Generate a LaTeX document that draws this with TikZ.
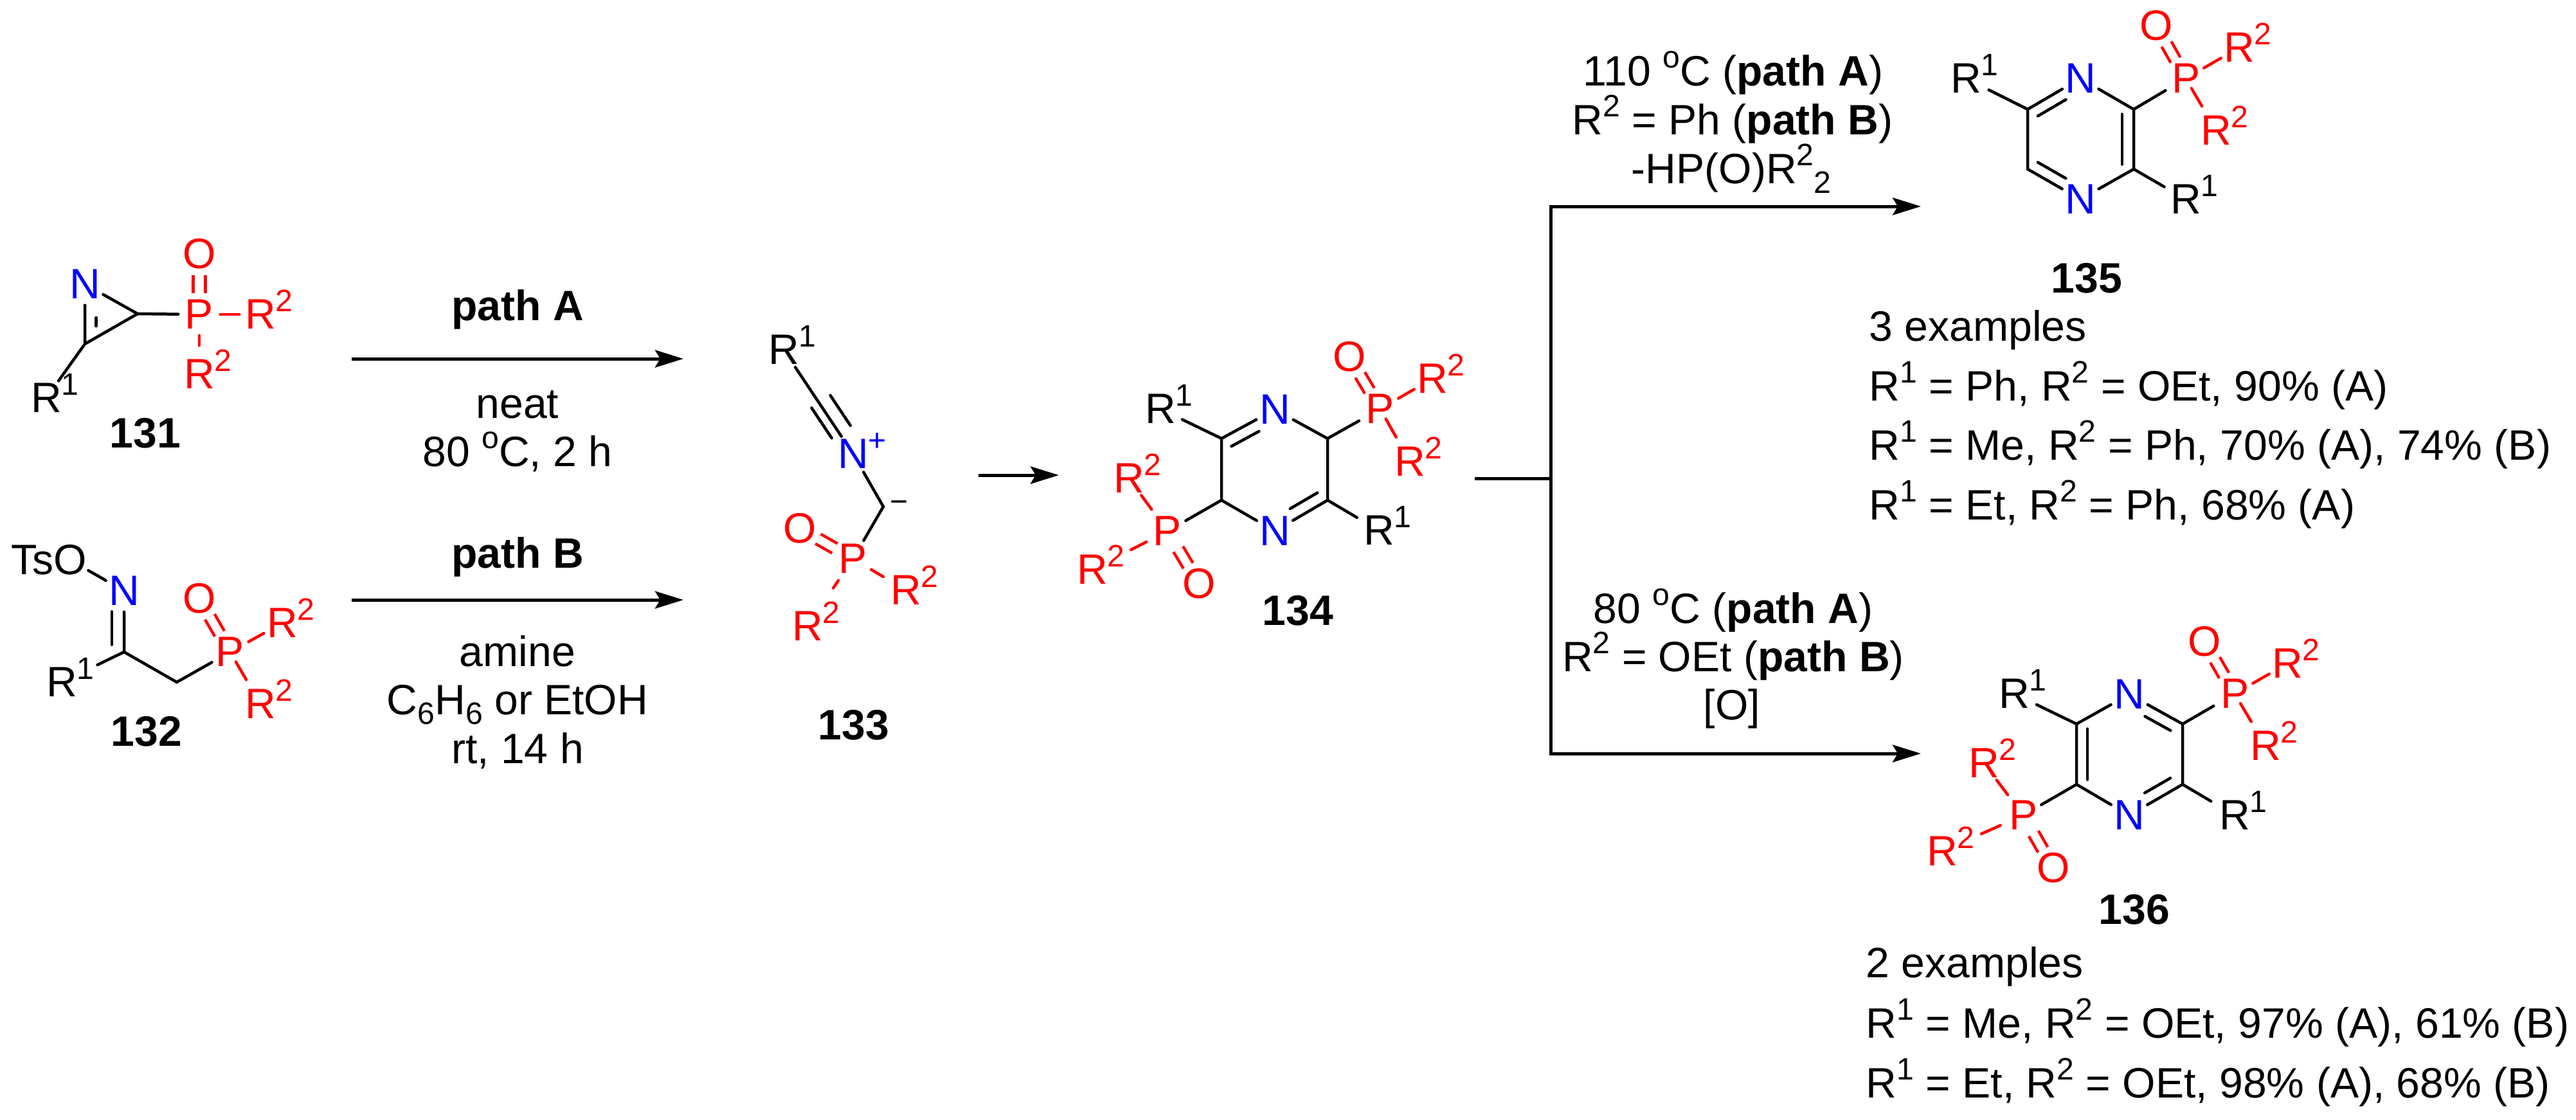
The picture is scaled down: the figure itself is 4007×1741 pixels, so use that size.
\documentclass[tikz,border=0pt]{standalone}
\usepackage{fontspec}
\setmainfont{Liberation Sans}
\usetikzlibrary{calc,arrows.meta}
\newcommand\chemf{\fontsize{18.8}{22}\selectfont}
\newcommand\supf{\fontsize{13.7}{14}\selectfont}
\newcommand\up[1]{\raisebox{.41em}{\supf #1}}
\newcommand\dn[1]{\raisebox{-.23em}{\supf #1}}
\newcommand\At[1]{\makebox[0pt]{#1}}
\newcommand\Rs[1]{\At{R\smash{\rlap{\up{#1}}}}}
\newcommand\sidebond[6][]{\draw[bond,#1] ($(#2)!#4!(#3)!#6!90:(#3)$) -- ($(#2)!#5!(#3)!#6!90:(#3)$);}
\tikzset{
  atom/.style={circle,inner sep=0pt,minimum size=.64cm,font=\chemf},
  ratom/.style={atom,text=red},
  batom/.style={atom,text=blue},
  txt/.style={inner sep=0pt,font=\chemf,anchor=base},
  ltxt/.style={txt,anchor=base west},
  num/.style={txt,font=\chemf\bfseries},
  bond/.style={line width=.045cm,line cap=round,draw=black},
  rbond/.style={bond,draw=red},
  dbond/.style={rbond,line cap=butt,double=white,double distance=.125cm},
  plow/.style={shorten <=-.15cm,shorten >=.11cm},
  arr/.style={line width=.05cm,draw=black,-{Stealth[length=.44cm,width=.27cm,inset=.08cm]}},
  line/.style={line width=.05cm,draw=black,line cap=rect}
}
\begin{document}
\begin{tikzpicture}[x=.01cm,y=-.01cm]
\useasboundingbox (0,0) rectangle (4007,1741);
\fill[white] (0,0) rectangle (4007,1741);
% ---------- 131
\node[batom] (aN) at (132,442) {\At{N}};
\coordinate (aC3) at (214,488);
\coordinate (aC2) at (132,535);
\node[ratom] (aP) at (310,489) {\At{P}};
\node[ratom] (aO) at (310,395) {\At{O}};
\node[ratom] (aRr) at (405,489) {\Rs{2}};
\node[ratom] (aRl) at (310,582) {\Rs{2}};
\node[atom] (aR1) at (72,619) {\Rs{1}};
\node[num] (aL) at (226,696) {131};
\draw[bond] (aN) -- (aC3) -- (aP);
\draw[bond] (aN) -- (aC2) -- (aC3);
\draw[bond,shorten <=.03cm] (aC2) -- (aR1);
\sidebond{aN}{aC2}{.56}{.70}{.175cm}
\draw[dbond,double distance=.14cm] (aP) -- (aO);
\draw[rbond] (aP) -- (aRr);
\draw[rbond,shorten >=.12cm] (aP) -- (aRl);
% ---------- 132
\node[atom] (bO) at (109,871) {\At{\llap{Ts}O}};
\node[batom] (bN) at (193,919) {\At{N}};
\coordinate (bC) at (193,1014);
\coordinate (bCH) at (275,1061);
\node[ratom] (bP) at (358,1014) {\At{P}};
\node[ratom] (bO2) at (310,931) {\At{O}};
\node[ratom] (bRr) at (439,969) {\Rs{2}};
\node[ratom] (bRl) at (405,1095) {\Rs{2}};
\node[atom] (bR1) at (96,1061) {\Rs{1}};
\node[num] (bL) at (228,1160) {132};
\draw[bond] (bO) -- (bN);
\draw[bond] (bN) -- (bC) -- (bCH) -- (bP);
\draw[bond,shorten >=.29cm] (bC) -- (bR1);
\sidebond{bN}{bC}{.34}{.88}{-.19cm}
\draw[dbond] (bP) -- (bO2);
\draw[rbond] (bP) -- (bRr);
\draw[rbond,plow] (bP) -- (bRl);
% ---------- path A / path B
\coordinate (arA1) at (547,558); \coordinate (arA2) at (1063,558);
\coordinate (arB1) at (547,933); \coordinate (arB2) at (1063,933);
\draw[arr] (arA1) -- (arA2);
\draw[arr] (arB1) -- (arB2);
\node[txt] (tA1) at (805,498) {\bfseries path A};
\node[txt] (tA2) at (805,650) {neat};
\node[txt] (tA3) at (805,725) {80 \up{o}C, 2 h};
\node[txt] (tB1) at (805,883) {\bfseries path B};
\node[txt] (tB2) at (805,1036) {amine};
\node[txt] (tB3) at (805,1111) {C\dn{6}H\dn{6} or EtOH};
\node[txt] (tB4) at (805,1187) {rt, 14 h};
% ---------- 133
\node[atom] (cR1) at (1219,544) {\Rs{1}};
\node[batom] (cN) at (1327,706) {\At{N\smash{\rlap{\up{+}}}}};
\coordinate (cC) at (1374,788);
\node[atom,minimum size=0pt] (cm) at (1399,788) {\At{\supf −}};
\node[ratom] (cP) at (1327,869) {\At{P}};
\node[ratom] (cO) at (1244,822) {\At{O}};
\node[ratom] (cRr) at (1409,918) {\Rs{2}};
\node[ratom] (cRl) at (1256,974) {\Rs{2}};
\node[num] (cL) at (1328,1150) {133};
\draw[bond] (cR1) -- (cN);
\sidebond{cR1}{cN}{.51}{.80}{.21cm}
\sidebond{cR1}{cN}{.51}{.80}{-.14cm}
\draw[bond] (cN) -- (cC) -- (cP);
\draw[dbond] (cP) -- (cO);
\draw[rbond,shorten >=.08cm] (cP) -- (cRr);
\draw[rbond,shorten <=.08cm,shorten >=.39cm] (cP) -- (cRl);
% ---------- arrow 133 -> 134
\coordinate (ar1) at (1522,739); \coordinate (ar2) at (1647,739);
\draw[arr] (ar1) -- (ar2);
% ---------- 134
\coordinate (dC1) at (1900,682); \coordinate (dC6) at (1900,778);
\coordinate (dC3) at (2065,682); \coordinate (dC4) at (2065,778);
\node[batom] (dNt) at (1983,637) {\At{N}};
\node[batom] (dNb) at (1983,826) {\At{N}};
\node[atom] (dR1a) at (1805,636) {\Rs{1}};
\node[atom] (dR1b) at (2145,825) {\Rs{1}};
\node[ratom] (dPa) at (2147,636) {\At{P}};
\node[ratom] (dOa) at (2099,555) {\At{O}};
\node[ratom] (dRr) at (2228,589) {\Rs{2}};
\node[ratom] (dRl) at (2193,718) {\Rs{2}};
\node[ratom] (dPb) at (1816,826) {\At{P}};
\node[ratom] (dOb) at (1865,908) {\At{O}};
\node[ratom] (dRu) at (1756,744) {\Rs{2}};
\node[ratom] (dRd) at (1699,886) {\Rs{2}};
\node[num] (dL) at (2019,972) {134};
\draw[bond] (dC1) -- (dNt);
\draw[bond] (dNt) -- (dC3) -- (dC4) -- (dNb);
\draw[bond] (dNb) -- (dC6) -- (dC1);
\sidebond{dC1}{dNt}{.083}{.60}{-.18cm}
\sidebond{dC4}{dNb}{.083}{.60}{-.18cm}
\draw[bond,shorten >=.05cm] (dC1) -- (dR1a);
\draw[bond,shorten >=.07cm] (dC4) -- (dR1b);
\draw[bond,shorten >=.05cm] (dC3) -- (dPa);
\draw[bond] (dC6) -- (dPb);
\draw[dbond] (dPa) -- (dOa);
\draw[rbond] (dPa) -- (dRr);
\draw[rbond,plow] (dPa) -- (dRl);
\draw[dbond] (dPb) -- (dOb);
\draw[rbond,shorten <=.09cm] (dPb) -- (dRu);
\draw[rbond,shorten <=.04cm,shorten >=.35cm] (dPb) -- (dRd);
% ---------- branch
\coordinate (st) at (2296,744); \coordinate (j) at (2412,744);
\coordinate (jt) at (2412,321); \coordinate (jb) at (2412,1172);
\coordinate (tipT) at (2988,321); \coordinate (tipB) at (2988,1172);
\draw[line] (st) -- (j);
\draw[line] (jt) -- (jb);
\draw[arr] (jt) -- (tipT);
\draw[arr] (jb) -- (tipB);
\node[txt] (t1) at (2696,133) {110 \up{o}C (\textbf{path A})};
\node[txt] (t2) at (2695,209) {R\up{2} = Ph (\textbf{path B})};
\node[txt] (t3) at (2693,285) {-HP(O)R\up{2}\dn{2}};
\node[txt] (t4) at (2696,969) {80 \up{o}C (\textbf{path A})};
\node[txt] (t5) at (2696,1044) {R\up{2} = OEt (\textbf{path B})};
\node[txt] (t6) at (2694,1119) {[O]};
% ---------- 135
\coordinate (eC5) at (3154,170); \coordinate (eC6) at (3154,263);
\coordinate (eC2) at (3319,170); \coordinate (eC3) at (3319,263);
\node[batom] (eNt) at (3236,122) {\At{N}};
\node[batom] (eNb) at (3236,310) {\At{N}};
\node[atom] (eR1a) at (3058,122) {\Rs{1}};
\node[atom] (eR1b) at (3400,310) {\Rs{1}};
\node[ratom] (eP) at (3400,122) {\At{P}};
\node[ratom] (eO) at (3354,40) {\At{O}};
\node[ratom] (eRr) at (3483,74) {\Rs{2}};
\node[ratom] (eRl) at (3447,203) {\Rs{2}};
\node[num] (eL) at (3246,455) {135};
\draw[bond] (eC5) -- (eNt);
\draw[bond] (eNt) -- (eC2) -- (eC3) -- (eNb);
\draw[bond] (eNb) -- (eC6) -- (eC5);
\sidebond{eC5}{eNt}{.09}{.62}{-.17cm}
\sidebond{eC6}{eNb}{.09}{.62}{.17cm}
\sidebond{eC2}{eC3}{.08}{.92}{-.18cm}
\draw[bond,shorten >=.07cm] (eC5) -- (eR1a);
\draw[bond,shorten >=.06cm] (eC3) -- (eR1b);
\draw[bond,shorten >=.04cm] (eC2) -- (eP);
\draw[dbond] (eP) -- (eO);
\draw[rbond] (eP) -- (eRr);
\draw[rbond,plow] (eP) -- (eRl);
\node[ltxt] (e1) at (2907,530) {3 examples};
\node[ltxt] (e2) at (2907,623) {R\up{1} = Ph, R\up{2} = OEt, 90\% (A)};
\node[ltxt] (e3) at (2907,715) {R\up{1} = Me, R\up{2} = Ph, 70\% (A), 74\% (B)};
\node[ltxt] (e4) at (2907,808) {R\up{1} = Et, R\up{2} = Ph, 68\% (A)};
% ---------- 136
\coordinate (fC5) at (3230,1126); \coordinate (fC6) at (3230,1220);
\coordinate (fC2) at (3395,1126); \coordinate (fC3) at (3395,1220);
\node[batom] (fNt) at (3312,1080) {\At{N}};
\node[batom] (fNb) at (3312,1268) {\At{N}};
\node[atom] (fR1a) at (3133,1079) {\Rs{1}};
\node[atom] (fR1b) at (3476,1268) {\Rs{1}};
\node[ratom] (fPa) at (3476,1079) {\At{P}};
\node[ratom] (fOa) at (3429,998) {\At{O}};
\node[ratom] (fRr) at (3558,1032) {\Rs{2}};
\node[ratom] (fRl) at (3524,1160) {\Rs{2}};
\node[ratom] (fPb) at (3147,1268) {\At{P}};
\node[ratom] (fOb) at (3194,1350) {\At{O}};
\node[ratom] (fRu) at (3086,1187) {\Rs{2}};
\node[ratom] (fRd) at (3021,1324) {\Rs{2}};
\node[num] (fL) at (3320,1437) {136};
\draw[bond] (fC5) -- (fNt);
\draw[bond] (fNt) -- (fC2) -- (fC3) -- (fNb);
\draw[bond] (fNb) -- (fC6) -- (fC5);
\sidebond{fC2}{fNt}{.12}{.60}{.18cm}
\sidebond{fC3}{fNb}{.12}{.60}{-.18cm}
\sidebond{fC5}{fC6}{.08}{.92}{.17cm}
\draw[bond,shorten >=.06cm] (fC5) -- (fR1a);
\draw[bond,shorten >=.10cm] (fC3) -- (fR1b);
\draw[bond,shorten >=.05cm] (fC2) -- (fPa);
\draw[bond] (fC6) -- (fPb);
\draw[dbond] (fPa) -- (fOa);
\draw[rbond] (fPa) -- (fRr);
\draw[rbond,plow] (fPa) -- (fRl);
\draw[dbond] (fPb) -- (fOb);
\draw[rbond,shorten <=.07cm] (fPb) -- (fRu);
\draw[rbond,shorten <=.06cm,shorten >=.34cm] (fPb) -- (fRd);
\node[ltxt] (f1) at (2902,1520) {2 examples};
\node[ltxt] (f2) at (2902,1614) {R\up{1} = Me, R\up{2} = OEt, 97\% (A), 61\% (B)};
\node[ltxt] (f3) at (2902,1707) {R\up{1} = Et, R\up{2} = OEt, 98\% (A), 68\% (B)};
\end{tikzpicture}
\end{document}
